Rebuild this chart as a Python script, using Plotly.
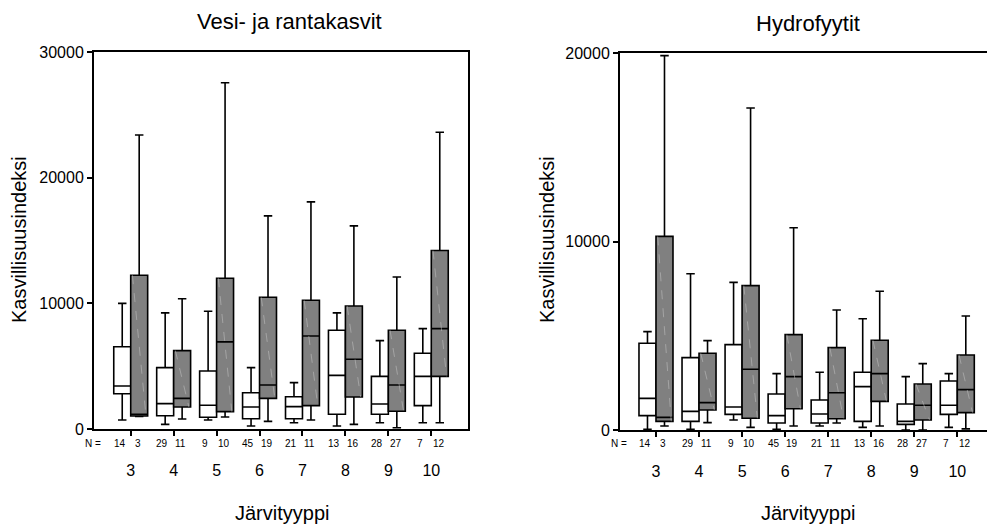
import plotly.graph_objects as go

# Lake types (järvityyppi) and group sizes
lake_types = [3, 4, 5, 6, 7, 8, 9, 10]
n_white = [14, 29, 9, 45, 21, 13, 28, 7]
n_gray = [3, 11, 10, 19, 11, 16, 27, 12]

# Vesi- ja rantakasvit: box statistics (white series)
vr_w_low = [720, 370, 720, 240, 500, 240, 500, 500]
vr_w_q1 = [2810, 1060, 930, 820, 820, 1170, 1170, 1860]
vr_w_med = [3420, 2020, 1890, 1750, 1780, 4270, 1990, 4190]
vr_w_q3 = [6550, 4880, 4620, 2890, 2570, 7860, 4190, 6030]
vr_w_high = [10000, 9240, 9370, 4880, 3690, 9240, 7030, 7990]

# Vesi- ja rantakasvit: box statistics (grey series)
vr_g_low = [1000, 800, 955, 610, 720, 370, 100, 500]
vr_g_q1 = [1035, 1750, 1380, 2440, 1860, 2550, 1410, 4190]
vr_g_med = [1170, 2440, 6930, 3500, 7400, 5550, 3500, 7990]
vr_g_q3 = [12240, 6240, 12000, 10480, 10240, 9790, 7860, 14200]
vr_g_high = [23400, 10370, 27550, 16960, 18070, 16160, 12100, 23620]

# Hydrofyytit: box statistics (white series)
hf_w_low = [40, 40, 530, 40, 210, 140, 0, 140]
hf_w_q1 = [760, 460, 830, 370, 370, 460, 300, 830]
hf_w_med = [1680, 990, 1220, 760, 850, 2300, 460, 1310]
hf_w_q3 = [4600, 3840, 4530, 1910, 1590, 3060, 1380, 2600]
hf_w_high = [5220, 8290, 7830, 2990, 3060, 5900, 2830, 2990]

# Hydrofyytit: box statistics (grey series)
hf_g_low = [210, 390, 140, 210, 370, 210, 0, 60]
hf_g_q1 = [460, 1060, 620, 1130, 600, 1520, 530, 920]
hf_g_med = [670, 1450, 3220, 2830, 1980, 2990, 1310, 2140]
hf_g_q3 = [10270, 4070, 7660, 5060, 4370, 4760, 2440, 3980]
hf_g_high = [19860, 4740, 17080, 10730, 6370, 7360, 3520, 6050]

W, H = 987, 528
FONT = "Liberation Sans, Arial, sans-serif"
GREY = "#808080"
BOX_W = 0.395  # width of one box in category units (boxes touch at the tick)


def px_x(p):
    return p / W


def px_y(p):
    return (H - p) / H


def box(name, low, q1, med, q3, high, fill, xa, ya, group):
    return go.Box(
        name=name, x=lake_types, lowerfence=low, q1=q1, median=med, q3=q3,
        upperfence=high, fillcolor=fill, line=dict(color="black", width=1.6),
        whiskerwidth=0.5, boxpoints=False, xaxis=xa, yaxis=ya,
        offsetgroup=group, showlegend=False, hoverinfo="skip",
    )


fig = go.Figure()
fig.add_trace(box("w", vr_w_low, vr_w_q1, vr_w_med, vr_w_q3, vr_w_high, "white", "x", "y", "1"))
fig.add_trace(box("g", vr_g_low, vr_g_q1, vr_g_med, vr_g_q3, vr_g_high, GREY, "x", "y", "2"))
fig.add_trace(box("w", hf_w_low, hf_w_q1, hf_w_med, hf_w_q3, hf_w_high, "white", "x2", "y2", "1"))
fig.add_trace(box("g", hf_g_low, hf_g_q1, hf_g_med, hf_g_q3, hf_g_high, GREY, "x2", "y2", "2"))

common_x = dict(
    tickmode="array", tickvals=lake_types, ticktext=[str(t) for t in lake_types],
    ticks="outside", ticklen=5, tickwidth=1.5, tickcolor="black",
    showline=True, linecolor="black", linewidth=2, showgrid=False, zeroline=False,
    tickfont=dict(family=FONT, size=16, color="black"), ticklabelstandoff=21,
)
common_y = dict(
    ticks="outside", ticklen=5, tickwidth=1.5, tickcolor="black",
    showline=True, linecolor="black", linewidth=2, showgrid=False, zeroline=False,
    tickfont=dict(family=FONT, size=16, color="black"), tickformat="d",
    ticklabelstandoff=0,
)

fig.update_layout(
    width=W, height=H, margin=dict(l=0, r=0, t=0, b=0, autoexpand=False),
    paper_bgcolor="white", plot_bgcolor="white",
    boxmode="group", boxgap=1 - 2 * BOX_W, boxgroupgap=0.0,
    xaxis=dict(common_x, domain=[px_x(94), px_x(468)], range=[2.145, 10.855],
               anchor="y", mirror=True),
    yaxis=dict(common_y, domain=[px_y(429), px_y(52)], range=[0, 30000],
               tickvals=[0, 10000, 20000, 30000], anchor="x", mirror=True),
    xaxis2=dict(common_x, domain=[px_x(620), 1.0], range=[2.164, 10.69],
                anchor="y2", mirror=True),
    yaxis2=dict(common_y, domain=[px_y(430), px_y(53)], range=[0, 20000],
                tickvals=[0, 10000, 20000], anchor="x2", mirror=False),
)

ann = []


def label(text, x, y, size, **kw):
    ann.append(dict(text=text, x=x, y=y, xref=kw.pop("xref", "paper"), yref="paper",
                    xanchor="center", yanchor="middle", showarrow=False,
                    font=dict(family=FONT, size=size, color="black"), **kw))


# Panel titles
label("Vesi- ja rantakasvit", px_x(289), px_y(21), 22)
label("Hydrofyytit", px_x(808), px_y(23), 22)
# Axis titles
for xc in (282, 808):
    label("Järvityyppi", px_x(xc), px_y(513), 20)
for xc in (19, 547):
    label("Kasvillisuusindeksi", px_x(xc), px_y(240), 20, textangle=-90)
# Group sizes under each box
for xref, nx in (("x", 93), ("x2", 619)):
    label("N =", px_x(nx), px_y(443), 10)
    for t, nw, ng in zip(lake_types, n_white, n_gray):
        label(str(nw), t - 0.26, px_y(443), 10, xref=xref)
        label(str(ng), t + 0.17, px_y(443), 10, xref=xref)
fig.update_layout(annotations=ann)

# Faint light diagonal streak across each grey box
shapes = []
for xref, yref, q1s, q3s in (("x", "y", vr_g_q1, vr_g_q3), ("x2", "y2", hf_g_q1, hf_g_q3)):
    for t, q1, q3 in zip(lake_types, q1s, q3s):
        shapes.append(dict(type="line", xref=xref, yref=yref,
                           x0=t + 0.1 * BOX_W, y0=q3, x1=t + 0.9 * BOX_W, y1=q1,
                           line=dict(color="rgba(200,200,200,0.5)", width=1, dash="dash"),
                           layer="above"))
fig.update_layout(shapes=shapes)

fig.write_html("out.html")
